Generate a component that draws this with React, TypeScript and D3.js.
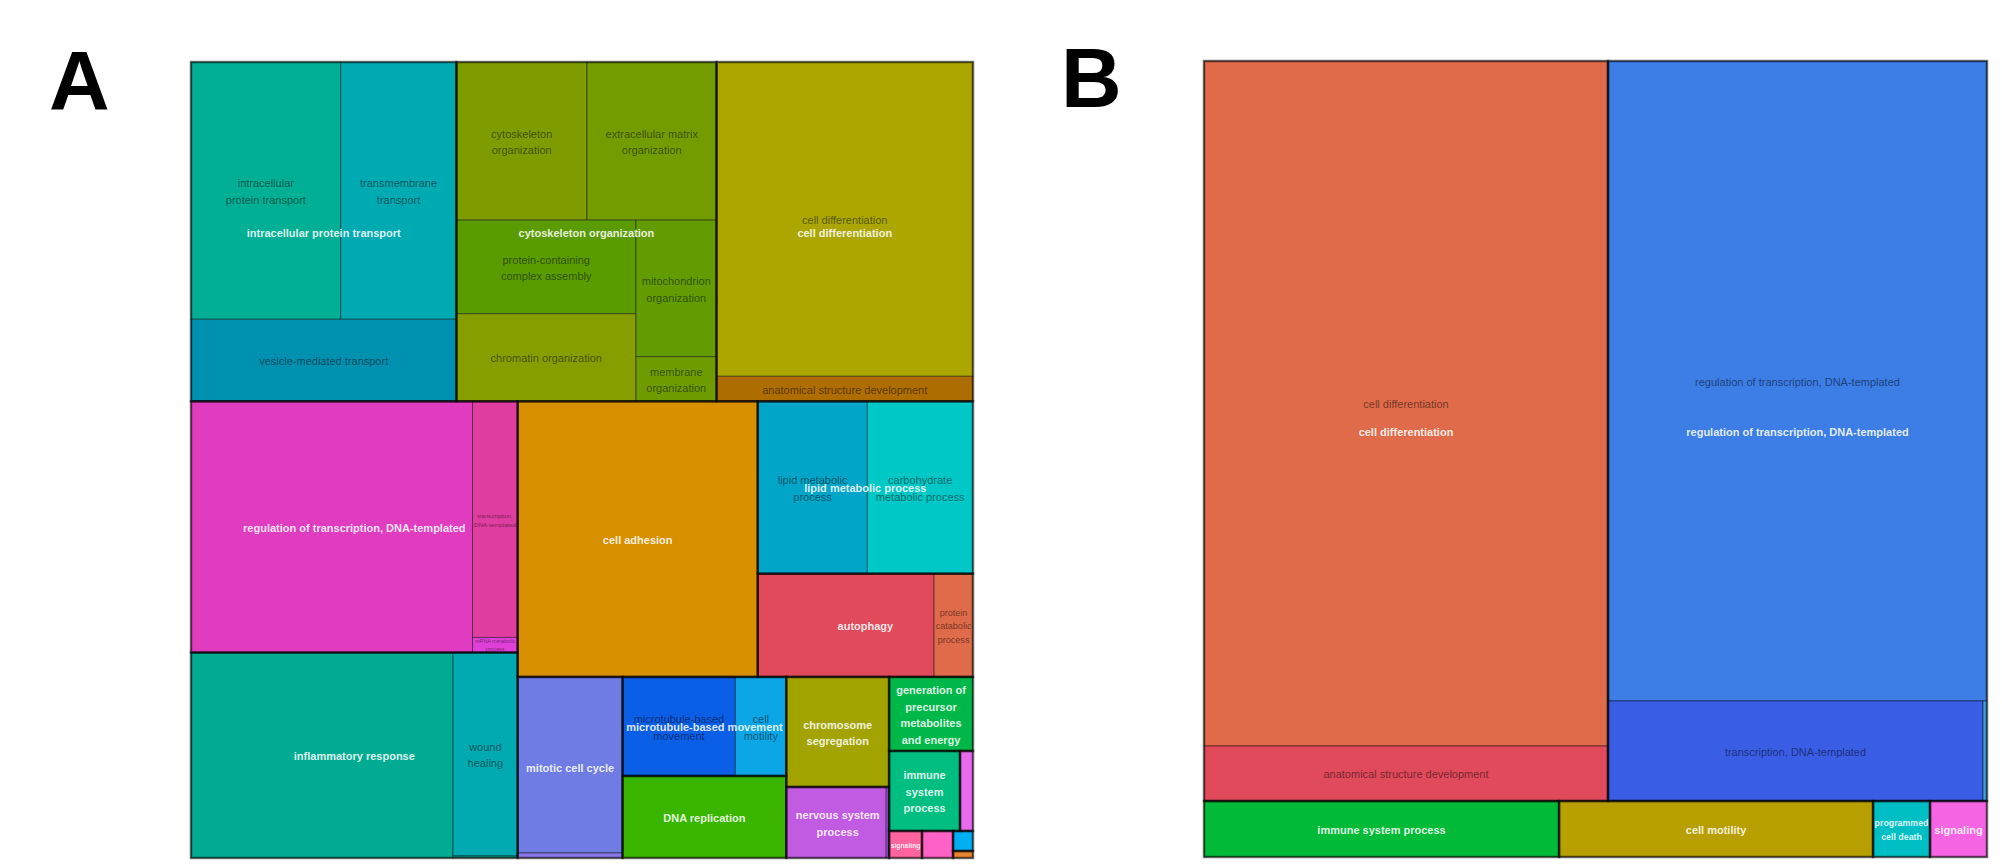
import React from 'react';
import * as d3 from 'd3';

// ---------- Panel A data ----------
const aGroupNames = [
  'intracellular protein transport',
  'cytoskeleton organization',
  'cell differentiation',
  'regulation of transcription, DNA-templated',
  'inflammatory response',
  'cell adhesion',
  'lipid metabolic process',
  'autophagy',
  'mitotic cell cycle',
  'microtubule-based movement',
  'DNA replication',
  'chromosome\nsegregation',
  'nervous system\nprocess',
  'generation of\nprecursor\nmetabolites\nand energy',
  'immune\nsystem\nprocess',
  '',
  'signaling',
  '',
  '',
  '',
];

const aTermNames = [
  'intracellular\nprotein transport',
  'transmembrane\ntransport',
  'vesicle-mediated transport',
  'cytoskeleton\norganization',
  'extracellular matrix\norganization',
  'protein-containing\ncomplex assembly',
  'chromatin organization',
  'mitochondrion\norganization',
  'membrane\norganization',
  'cell differentiation',
  'anatomical structure development',
  'regulation of transcription, DNA-templated',
  'transcription,\nDNA-templated',
  'mRNA metabolic\nprocess',
  'inflammatory response',
  'wound\nhealing',
  '',
  'cell adhesion',
  'lipid metabolic\nprocess',
  'carbohydrate\nmetabolic process',
  'autophagy',
  'protein\ncatabolic\nprocess',
  'mitotic cell cycle',
  '',
  'microtubule-based\nmovement',
  'cell\nmotility',
  'DNA replication',
  'chromosome\nsegregation',
  'nervous system\nprocess',
  '',
  'generation of\nprecursor\nmetabolites\nand energy',
  'immune\nsystem\nprocess',
  '',
  'signaling',
  '',
  '',
  '',
];

const aTermGroup = [
  0, 0, 0,
  1, 1, 1, 1, 1, 1,
  2, 2,
  3, 3, 3,
  4, 4, 4,
  5,
  6, 6,
  7, 7,
  8, 8,
  9, 9,
  10,
  11,
  12, 12,
  13,
  14,
  15,
  16,
  17,
  18,
  19,
];

const aTermScores = [
  385.5, 298.1, 218.1,
  206.7, 205.1, 168.3, 157.5, 110.0, 36.0,
  807.0, 64.3,
  708.1, 106.7, 6.8,
  539.0, 131.7, 1.3,
  662.4,
  189.2, 182.3,
  182.3, 40.2,
  184.8, 5.3,
  111.9, 50.5,
  134.5,
  113.3,
  71.0, 2.1,
  62.2,
  56.8,
  10.4,
  8.9,
  8.4,
  4.0,
  1.4,
];

const aTermColors = [
  '#00AF94', '#00AAB2', '#0090B0',
  '#7E9C00', '#739C00', '#5A9B00', '#879E00', '#629C00', '#6E9C00',
  '#ABA700', '#AD6D00',
  '#E03CBF', '#DF3DA0', '#E040DA',
  '#00AB92', '#00AAB0', '#00A08A',
  '#D88F00',
  '#00A5C8', '#00C8C6',
  '#E04A5B', '#DF6B4A',
  '#6F7CE4', '#8A78E8',
  '#0B5EE6', '#0BA6E5',
  '#3AB500',
  '#A3A300',
  '#C15BE2', '#9A50D8',
  '#00B84A',
  '#00BE80',
  '#E86BEE',
  '#FF649E',
  '#FF62C6',
  '#00AFF2',
  '#E8842E',
];

// ---------- Panel B data ----------
const bGroupNames = [
  'cell differentiation',
  'regulation of transcription, DNA-templated',
  'immune system process',
  'cell motility',
  'programmed\ncell death',
  'signaling',
];

const bTermNames = [
  'cell differentiation',
  'anatomical structure development',
  'regulation of transcription, DNA-templated',
  'transcription, DNA-templated',
  '',
  'immune system process',
  'cell motility',
  'programmed\ncell death',
  'signaling',
];

const bTermGroup = [0, 0, 1, 1, 1, 2, 3, 4, 5];

const bTermScores = [2767.4, 222.2, 2425.6, 375.0, 4.0, 198.8, 175.8, 31.9, 31.9];

const bTermColors = [
  '#DF6B4A', '#E04A5B',
  '#3C7DE6', '#3A5DE6', '#3BA0E6',
  '#00BA38',
  '#B79F00',
  '#00BFC4',
  '#F564E3',
];

// ---------- pivot-by-size layout (ordered treemap) ----------
function placePivot(nodes: any[], x0: number, y0: number, x1: number, y1: number) {
  const n = nodes.length;
  if (!n) return;
  if (n === 1) {
    const d = nodes[0];
    d.x0 = x0; d.y0 = y0; d.x1 = x1; d.y1 = y1;
    return;
  }
  const sum = (arr: any[]) => arr.reduce((s, d) => s + d.value, 0);
  const total = sum(nodes);
  let pi = 0;
  nodes.forEach((d, i) => { if (d.value > nodes[pi].value) pi = i; });
  const L1 = nodes.slice(0, pi);
  const P = nodes[pi];
  const rest = nodes.slice(pi + 1);
  const w = x1 - x0, h = y1 - y0;
  const wide = w >= h;
  const s1 = sum(L1);
  let ax0 = x0, ay0 = y0;
  if (L1.length) {
    if (wide) { const w1 = w * s1 / total; placePivot(L1, x0, y0, x0 + w1, y1); ax0 = x0 + w1; }
    else { const h1 = h * s1 / total; placePivot(L1, x0, y0, x1, y0 + h1); ay0 = y0 + h1; }
  }
  const rw = x1 - ax0, rh = y1 - ay0, rt = total - s1;
  let bestK = 0, bestAR = Infinity, s2 = 0;
  for (let k = 0; k <= rest.length; k++) {
    if (k > 0) s2 += rest[k - 1].value;
    let pw: number, ph: number;
    if (wide) { pw = rw * (P.value + s2) / rt; ph = rh * P.value / (P.value + s2); }
    else { ph = rh * (P.value + s2) / rt; pw = rw * P.value / (P.value + s2); }
    const ar = Math.max(pw / ph, ph / pw);
    if (ar < bestAR) { bestAR = ar; bestK = k; }
  }
  const L2 = rest.slice(0, bestK), L3 = rest.slice(bestK);
  const s2b = sum(L2);
  if (wide) {
    const cw = rw * (P.value + s2b) / rt;
    const ph = rh * P.value / (P.value + s2b);
    P.x0 = ax0; P.y0 = ay0; P.x1 = ax0 + cw; P.y1 = ay0 + ph;
    placePivot(L2, ax0, ay0 + ph, ax0 + cw, y1);
    placePivot(L3, ax0 + cw, ay0, x1, y1);
  } else {
    const rH = rh * (P.value + s2b) / rt;
    const pw = rw * P.value / (P.value + s2b);
    P.x0 = ax0; P.y0 = ay0; P.x1 = ax0 + pw; P.y1 = ay0 + rH;
    placePivot(L2, ax0 + pw, ay0, x1, ay0 + rH);
    placePivot(L3, ax0, ay0 + rH, x1, y1);
  }
}

function pivotTile(parent: any, x0: number, y0: number, x1: number, y1: number) {
  const kids = parent.children.slice().sort((a: any, b: any) => b.value - a.value);
  placePivot(kids, x0, y0, x1, y1);
}

// ---------- labels ----------
const FONT = '"Liberation Sans", Arial, Helvetica, sans-serif';
let measureCtx: CanvasRenderingContext2D | null = null;
function measure(text: string, bold: boolean) {
  if (!measureCtx) measureCtx = document.createElement('canvas').getContext('2d');
  const ctx = measureCtx!;
  ctx.font = `${bold ? 'bold ' : ''}11px ${FONT}`;
  return ctx.measureText(text).width;
}

type Lbl = { lines: string[]; x: number; y: number; fs: number; w: number; h: number; bold: boolean };

function makeLabel(text: string, x0: number, y0: number, x1: number, y1: number, bold: boolean): Lbl | null {
  if (!text) return null;
  const lines = text.split('\n');
  const maxW = Math.max(...lines.map(l => measure(l, bold)));
  const w = x1 - x0, h = y1 - y0;
  const fs = Math.min(11, 11 * (w - 3) / maxW, h / (lines.length * 1.4));
  if (fs < 4.4) return null;
  const lh = 1.5 * fs;
  return {
    lines, x: (x0 + x1) / 2, y: (y0 + y1) / 2, fs,
    w: maxW * fs / 11, h: (lines.length - 1) * lh + fs, bold,
  };
}

function overlapArea(a: Lbl, b: Lbl) {
  const ox = Math.min(a.x + a.w / 2, b.x + b.w / 2) - Math.max(a.x - a.w / 2, b.x - b.w / 2);
  const oy = Math.min(a.y + a.h / 2, b.y + b.h / 2) - Math.max(a.y - a.h / 2, b.y - b.h / 2);
  return ox > 0 && oy > 0 ? ox * oy : 0;
}

function LabelText({ l, fill, opacity }: { l: Lbl; fill: string; opacity: number }) {
  const lh = 1.5 * l.fs;
  const n = l.lines.length;
  return (
    <text
      textAnchor="middle"
      fontFamily={FONT}
      fontSize={l.fs}
      fontWeight={l.bold ? 'bold' : 'normal'}
      fill={fill}
      fillOpacity={opacity}
    >
      {l.lines.map((line, i) => (
        <tspan key={i} x={l.x} y={l.y + (i - (n - 1) / 2) * lh + 0.45 * l.fs}>{line}</tspan>
      ))}
    </text>
  );
}

type PanelProps = {
  ox: number; oy: number; w: number; h: number;
  groups: string[]; terms: string[]; termGroup: number[]; scores: number[]; colors: string[];
};

function Panel({ ox, oy, w, h, groups, terms, termGroup, scores, colors }: PanelProps) {
  const data = {
    name: 'root',
    children: groups.map((g, gi) => ({
      name: g,
      children: terms
        .map((t, ti) => ({ name: t, value: scores[ti], ti }))
        .filter(d => termGroup[d.ti] === gi),
    })),
  };
  const root = d3.hierarchy<any>(data).sum((d: any) => d.value ?? 0);
  d3.treemap<any>().size([w, h]).round(false).tile(pivotTile as any)(root);
  const groupNodes = (root.children ?? []) as any[];
  const leaves = root.leaves() as any[];

  const parentLabels = groupNodes
    .map(g => makeLabel(g.data.name, g.x0, g.y0, g.x1, g.y1, true))
    .filter(Boolean) as Lbl[];
  const childLabels = (leaves
    .map(c => makeLabel(c.data.name, c.x0, c.y0, c.x1, c.y1, false))
    .filter(Boolean) as Lbl[])
    .filter(c => parentLabels.every(p => overlapArea(c, p) <= 0.5 * c.w * c.h));

  return (
    <g transform={`translate(${ox},${oy})`}>
      {leaves.map((c, i) => (
        <rect
          key={`c${i}`}
          x={c.x0} y={c.y0} width={c.x1 - c.x0} height={c.y1 - c.y0}
          fill={colors[c.data.ti]}
          stroke="#000" strokeOpacity={0.45} strokeWidth={1}
        />
      ))}
      {groupNodes.map((g, i) => (
        <rect
          key={`g${i}`}
          x={g.x0} y={g.y0} width={g.x1 - g.x0} height={g.y1 - g.y0}
          fill="none" stroke="#000" strokeOpacity={0.5} strokeWidth={2.5}
        />
      ))}
      {childLabels.map((l, i) => <LabelText key={`cl${i}`} l={l} fill="#000" opacity={0.5} />)}
      {parentLabels.map((l, i) => <LabelText key={`pl${i}`} l={l} fill="#fff" opacity={0.87} />)}
    </g>
  );
}

export default function App() {
  return (
    <svg
      width={2002}
      height={866}
      style={{ position: 'absolute', left: 0, top: 0, background: '#ffffff' }}
    >
      <rect x={0} y={0} width={2002} height={866} fill="#ffffff" />
      <text x={49} y={110} fontFamily={FONT} fontWeight="bold" fontSize={84} fill="#000">A</text>
      <text x={1061} y={107} fontFamily={FONT} fontWeight="bold" fontSize={84} fill="#000">B</text>
      <Panel ox={191} oy={62} w={782} h={796}
        groups={aGroupNames} terms={aTermNames} termGroup={aTermGroup} scores={aTermScores} colors={aTermColors} />
      <Panel ox={1204} oy={61} w={783} h={796}
        groups={bGroupNames} terms={bTermNames} termGroup={bTermGroup} scores={bTermScores} colors={bTermColors} />
    </svg>
  );
}
